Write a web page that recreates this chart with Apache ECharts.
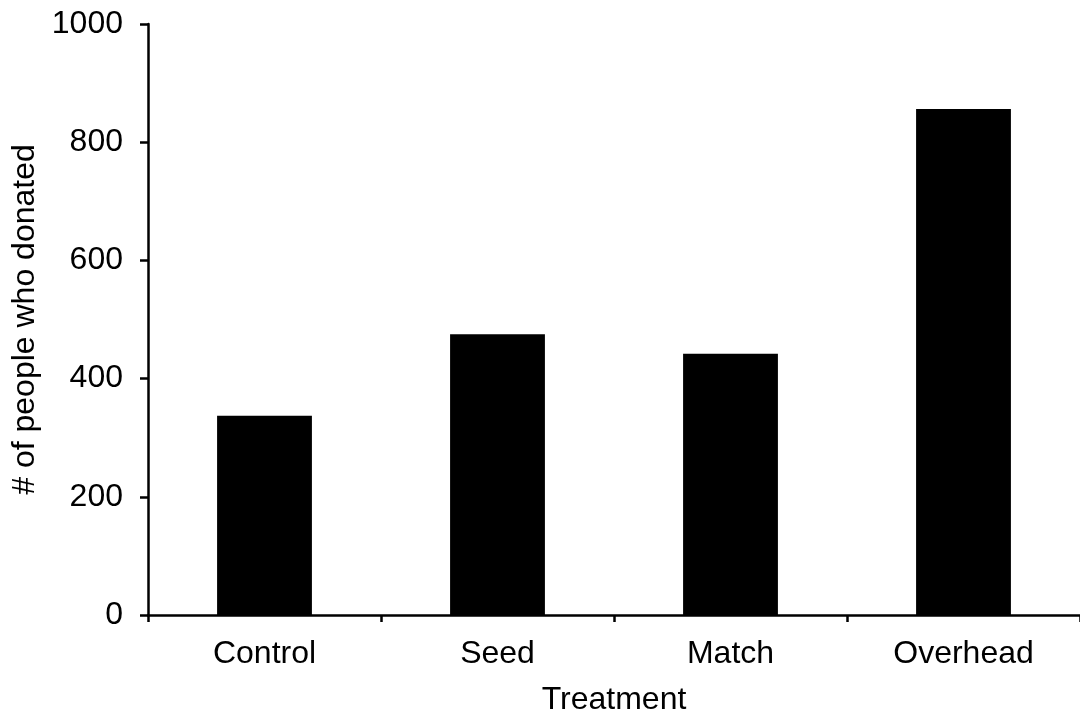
<!DOCTYPE html>
<html>
<head>
<meta charset="utf-8">
<script src="https://cdn.jsdelivr.net/npm/echarts@6/dist/echarts.min.js"></script>
<style>
html,body{margin:0;padding:0;background:#fff;}
#chart{width:1080px;height:721px;}
</style>
</head>
<body>
<div id="chart"></div>
<script>
var categories = ['Control', 'Seed', 'Match', 'Overhead'];
var donors = [337, 475, 442, 856];
var yTicks = [0, 200, 400, 600, 800, 1000];

var chart = echarts.init(document.getElementById('chart'), null, {renderer: 'canvas'});
var font = 'Liberation Sans, Arial, Helvetica, sans-serif';
chart.setOption({
  animation: false,
  backgroundColor: '#ffffff',
  grid: {left: 148, right: -2, top: 24, bottom: 105, containLabel: false},
  xAxis: {
    type: 'category',
    data: categories,
    boundaryGap: true,
    name: 'Treatment',
    nameLocation: 'middle',
    nameGap: 69,
    nameTextStyle: {fontFamily: font, fontSize: 32, color: '#000'},
    axisLine: {show: true, lineStyle: {color: '#000', width: 2.5}},
    axisTick: {show: true, length: 7, alignWithLabel: false, lineStyle: {color: '#000', width: 2.5}},
    axisLabel: {fontFamily: font, fontSize: 32, color: '#000', margin: 23},
    splitLine: {show: false}
  },
  yAxis: {
    type: 'value',
    min: yTicks[0],
    max: yTicks[yTicks.length - 1],
    interval: 200,
    name: '# of people who donated',
    nameLocation: 'middle',
    nameRotate: 90,
    nameGap: 104,
    nameTextStyle: {fontFamily: font, fontSize: 32, color: '#000'},
    axisLine: {show: true, lineStyle: {color: '#000', width: 2.5}},
    axisTick: {show: true, length: 8, inside: false, lineStyle: {color: '#000', width: 2.5}},
    axisLabel: {fontFamily: font, fontSize: 32, color: '#000', margin: 25,
      formatter: function (v) { return String(v); }},
    splitLine: {show: false}
  },
  series: [{
    type: 'bar',
    data: donors,
    barWidth: '40.7%',
    itemStyle: {color: '#000'}
  }]
});
</script>
</body>
</html>
